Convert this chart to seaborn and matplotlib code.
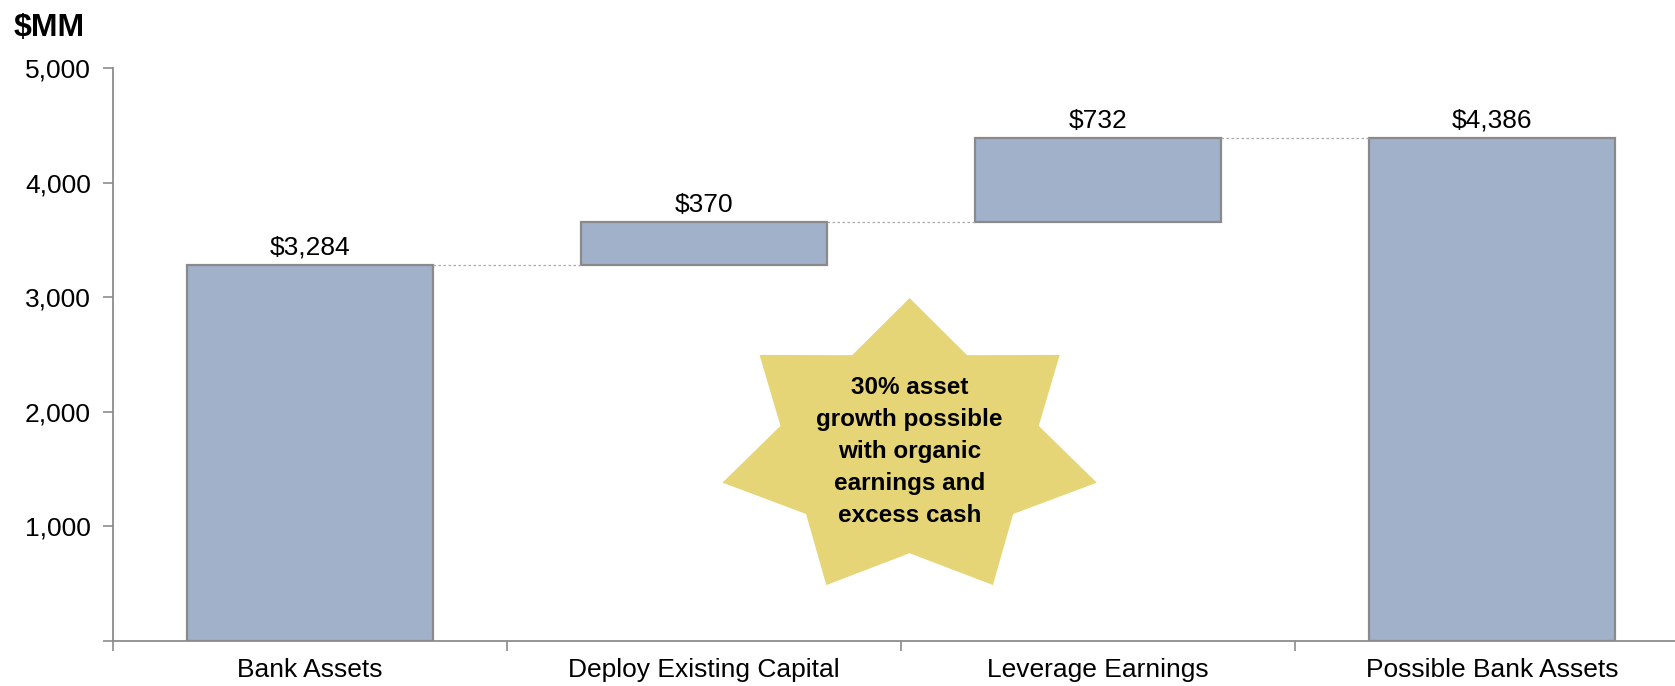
import numpy as np
import pandas as pd
import seaborn as sns
import matplotlib.pyplot as plt
from matplotlib.patches import Polygon
from matplotlib.ticker import FuncFormatter

# Data
categories = ["Bank Assets", "Deploy Existing Capital", "Leverage Earnings", "Possible Bank Assets"]
steps = [3284, 370, 732, 4386]          # value shown above each bar
is_total = [True, False, False, True]   # totals start from zero
label_text = ["$3,284", "$370", "$732", "$4,386"]
callout = "30% asset\ngrowth possible\nwith organic\nearnings and\nexcess cash"

# Build waterfall bottoms / tops
bottoms, tops = [], []
running = 0
for v, tot in zip(steps, is_total):
    if tot:
        bottoms.append(0)
        tops.append(v)
        running = v
    else:
        bottoms.append(running)
        running += v
        tops.append(running)

df = pd.DataFrame({"category": categories, "top": tops, "bottom": bottoms})

BAR_COLOR = "#A0B1C9"
EDGE = "#8A8A8A"
AXIS = "#8C8C8C"

sns.set_style("ticks")
plt.rcParams["font.family"] = ["Liberation Sans", "DejaVu Sans"]
plt.rcParams["text.color"] = "black"

fig = plt.figure(figsize=(16.75, 6.86), dpi=100)
ax = fig.add_axes([113 / 1675, 45 / 686, 1562 / 1675, 573 / 686])

bar_w = 0.625
sns.barplot(data=df, x="category", y="top", color=BAR_COLOR, width=bar_w,
            edgecolor=EDGE, linewidth=1.6, saturation=1, ax=ax)

# move floating bars to their bottoms
for patch, b, t in zip(ax.patches, bottoms, tops):
    patch.set_y(b)
    patch.set_height(t - b)

# connector lines
for i in range(len(categories) - 1):
    ax.plot([i + bar_w / 2, i + 1 - bar_w / 2], [tops[i], tops[i]],
            color="#A8A8A8", lw=0.9, dashes=(2, 2), zorder=1)

# value labels
for i, (t, txt) in enumerate(zip(tops, label_text)):
    ax.annotate(txt, (i, t), xytext=(0, 4), textcoords="offset points",
                ha="center", va="bottom", fontsize=19, color="black")

ax.set_xlim(-0.5, 3.464)
ax.set_ylim(0, 5000)
ax.set_yticks(np.arange(0, 5001, 1000))
ax.yaxis.set_major_formatter(FuncFormatter(lambda v, p: "" if v == 0 else f"{v:,.0f}"))
ax.set_xlabel("")
ax.set_ylabel("")

# boundary tick marks on x, labels centred
ax.set_xticks(np.arange(-0.5, 3.5, 1.0), minor=True)
ax.tick_params(axis="x", which="major", length=0, pad=12, labelsize=19, labelcolor="black")
ax.tick_params(axis="x", which="minor", length=7, width=1.2, color=AXIS)
ax.tick_params(axis="y", length=7, width=1.2, color=AXIS, pad=9, labelsize=19, labelcolor="black")

sns.despine(ax=ax)
for s in ["left", "bottom"]:
    ax.spines[s].set_color(AXIS)
    ax.spines[s].set_linewidth(1.3)

# 7-point star callout
cx, cy, rx, ry, inner = 0.510, 0.335, 0.1229, 0.2635, 0.69
pts = []
for k in range(14):
    ang = np.pi / 2 + k * np.pi / 7
    r = 1.0 if k % 2 == 0 else inner
    pts.append((cx + r * rx * np.cos(ang), cy + r * ry * np.sin(ang)))
ax.add_patch(Polygon(pts, closed=True, transform=ax.transAxes,
                     facecolor="#E6D577", edgecolor="none", zorder=3))
ax.text(cx, cy - 0.005, callout, transform=ax.transAxes, ha="center", va="center",
        fontsize=17.5, fontweight="bold", linespacing=1.5, color="black", zorder=4)

fig.text(14 / 1675, 1 - 36 / 686, "$MM", fontsize=23, fontweight="bold",
         va="baseline", color="black")

fig.savefig("out.png", dpi=100)
